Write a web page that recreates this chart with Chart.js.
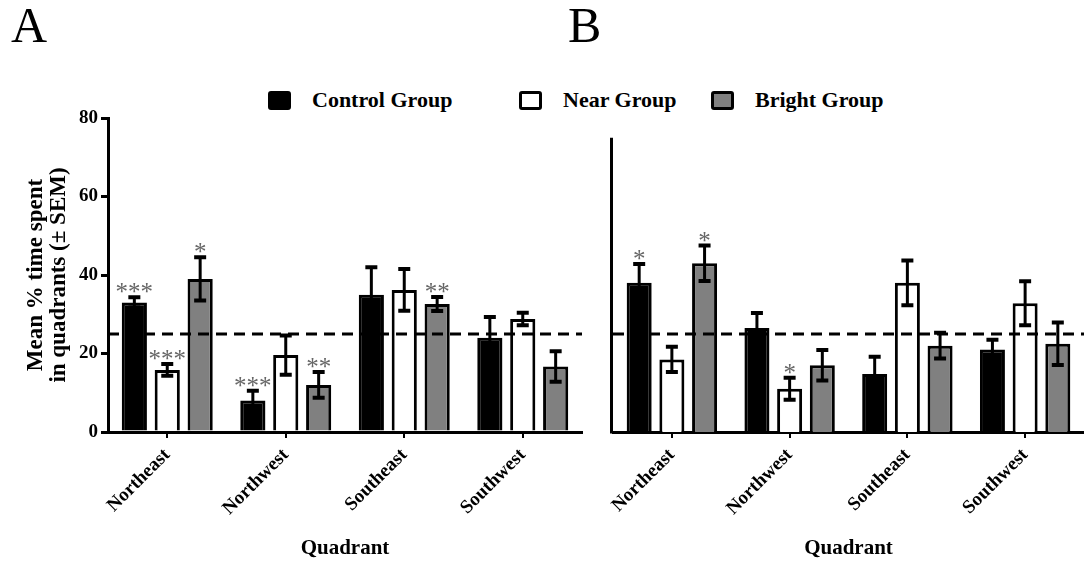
<!DOCTYPE html>
<html>
<head>
<meta charset="utf-8">
<script src="https://cdn.jsdelivr.net/npm/chart.js@4.4.1/dist/chart.umd.min.js"></script>
<style>
  body { margin: 0; background: #fff; }
  #wrap { position: relative; width: 1084px; height: 563px; font-family: "Liberation Serif", "Times New Roman", serif; color: #000; }
  canvas { position: absolute; top: 0; }
  #chartA { left: 0; }
  #chartB { left: 590px; }
  .panel-tag { position: absolute; top: 0px; font-size: 50px; line-height: 50px; }
  .legend-item { position: absolute; top: 88px; height: 24px; display: flex; align-items: center; font-weight: bold; font-size: 22px; white-space: nowrap; }
  .legend-box { width: 23px; height: 19px; box-sizing: border-box; border: 3px solid #000; border-radius: 3px; margin-right: 21px; }
</style>
</head>
<body>
<div id="wrap">
  <div class="panel-tag" style="left:11px">A</div>
  <div class="panel-tag" style="left:568px">B</div>
  <div id="legend"></div>
  <canvas id="chartA" width="595" height="563"></canvas>
  <canvas id="chartB" width="494" height="563"></canvas>
</div>
<script>
const categories = ['Northeast', 'Northwest', 'Southeast', 'Southwest'];
const groupNames = ['Control Group', 'Near Group', 'Bright Group'];
const groupColors = ['#000000', '#ffffff', '#808080'];
const yTicks = [0, 20, 40, 60, 80];
const chanceLevel = 25;

// Panel A: mean % time and SEM per quadrant
const controlMeanA = [33, 8, 35, 24];
const controlSemA = [1.3, 2.5, 7, 5.3];
const nearMeanA = [15.8, 19.6, 36.2, 28.8];
const nearSemA = [1.5, 5, 5.3, 1.6];
const brightMeanA = [39, 12, 32.6, 16.7];
const brightSemA = [5.5, 3.3, 1.8, 3.9];
const controlStarsA = ['***', '***', '', ''];
const nearStarsA = ['***', '', '', ''];
const brightStarsA = ['*', '**', '**', ''];

// Panel B
const controlMeanB = [38, 26.5, 14.8, 21];
const controlSemB = [4.8, 3.8, 4.4, 2.5];
const nearMeanB = [18.5, 11, 38, 32.8];
const nearSemB = [3.2, 2.8, 5.7, 5.6];
const brightMeanB = [43, 17, 22, 22.5];
const brightSemB = [4.5, 3.9, 3.3, 5.4];
const controlStarsB = ['*', '', '', ''];
const nearStarsB = ['', '*', '', ''];
const brightStarsB = ['*', '', '', ''];

const serif = '"Liberation Serif", "Times New Roman", serif';

// legend across both panels
const legendLeft = [268, 519, 711];
const legend = document.getElementById('legend');
groupNames.forEach((name, i) => {
  const item = document.createElement('div');
  item.className = 'legend-item';
  item.style.left = legendLeft[i] + 'px';
  const box = document.createElement('span');
  box.className = 'legend-box';
  box.style.background = groupColors[i];
  item.appendChild(box);
  item.appendChild(document.createTextNode(name));
  legend.appendChild(item);
});

// dashed chance line, error bars and significance stars
const overlay = {
  id: 'overlay',
  afterDatasetsDraw(chart, args, opts) {
    const { ctx, chartArea, scales: { y } } = chart;
    ctx.save();

    if (opts.axisTop != null) {
      ctx.strokeStyle = '#000';
      ctx.lineWidth = 3;
      ctx.beginPath();
      ctx.moveTo(chartArea.left - 1.5, y.getPixelForValue(0) + 1.5);
      ctx.lineTo(chartArea.left - 1.5, y.getPixelForValue(opts.axisTop));
      ctx.stroke();
    }

    const cy = y.getPixelForValue(chanceLevel);
    ctx.strokeStyle = '#000';
    ctx.lineWidth = 3;
    ctx.setLineDash([11, 7]);
    ctx.beginPath();
    ctx.moveTo(chartArea.left, cy);
    ctx.lineTo(chartArea.right, cy);
    ctx.stroke();
    ctx.setLineDash([]);

    chart.data.datasets.forEach((ds, i) => {
      chart.getDatasetMeta(i).data.forEach((bar, j) => {
        const hi = y.getPixelForValue(ds.data[j] + ds.sem[j]);
        const lo = y.getPixelForValue(ds.data[j] - ds.sem[j]);
        ctx.lineWidth = 3;
        ctx.beginPath();
        ctx.moveTo(bar.x, hi);
        ctx.lineTo(bar.x, lo);
        ctx.stroke();
        ctx.lineWidth = 4;
        ctx.beginPath();
        ctx.moveTo(bar.x - 6, hi);
        ctx.lineTo(bar.x + 6, hi);
        ctx.moveTo(bar.x - 6, lo);
        ctx.lineTo(bar.x + 6, lo);
        ctx.stroke();

        if (ds.stars[j]) {
          ctx.fillStyle = '#666666';
          ctx.font = '25px ' + serif;
          ctx.textAlign = 'center';
          ctx.textBaseline = 'alphabetic';
          ctx.fillText(ds.stars[j], bar.x, hi + 3);
        }
      });
    });
    ctx.restore();
  }
};

function buildChart(id, means, sems, stars, withLabels) {
  const datasets = groupNames.map((name, i) => ({
    label: name,
    data: means[i],
    sem: sems[i],
    stars: stars[i],
    backgroundColor: groupColors[i],
    borderColor: '#000',
    borderWidth: 3
  }));

  return new Chart(document.getElementById(id), {
    type: 'bar',
    data: { labels: categories, datasets },
    plugins: [overlay],
    options: {
      responsive: false,
      animation: false,
      layout: { padding: { top: 118, right: withLabels ? 13 : 0, left: 0, bottom: 0 } },
      datasets: { bar: { categoryPercentage: 0.833, barPercentage: 0.765 } },
      plugins: {
        legend: { display: false },
        tooltip: { enabled: false },
        overlay: { axisTop: withLabels ? null : 75 }
      },
      scales: {
        x: {
          grid: { drawOnChartArea: false, offset: false, color: '#000', lineWidth: 2, tickLength: 6 },
          border: { display: true, color: '#000', width: 3 },
          ticks: {
            color: '#000', autoSkip: false, minRotation: 45, maxRotation: 45, padding: 6,
            font: { family: serif, size: 19, weight: 'bold' }
          },
          title: {
            display: true, text: 'Quadrant', color: '#000',
            font: { family: serif, size: 21, weight: 'bold' },
            padding: { top: 0, bottom: 2 }
          },
          afterFit(scale) { scale.height = 131; }
        },
        y: {
          min: 0,
          max: 80,
          afterBuildTicks(scale) { scale.ticks = yTicks.map(v => ({ value: v })); },
          grid: { display: withLabels, drawOnChartArea: false, color: '#000', lineWidth: 3, tickLength: 7 },
          border: { display: withLabels, color: '#000', width: 3 },
          ticks: {
            display: withLabels, color: '#000', padding: 3,
            font: { family: serif, size: 19, weight: 'bold' }
          },
          title: {
            display: withLabels,
            text: ['Mean % time spent', 'in quadrants (± SEM)'],
            color: '#000',
            font: { family: serif, size: 23, weight: 'bold', lineHeight: 1.0 },
            padding: { top: 25, bottom: 0 }
          },
          afterFit(scale) { scale.width = withLabels ? 108 : 23; }
        }
      }
    }
  });
}

buildChart('chartA',
  [controlMeanA, nearMeanA, brightMeanA],
  [controlSemA, nearSemA, brightSemA],
  [controlStarsA, nearStarsA, brightStarsA], true);

buildChart('chartB',
  [controlMeanB, nearMeanB, brightMeanB],
  [controlSemB, nearSemB, brightSemB],
  [controlStarsB, nearStarsB, brightStarsB], false);
</script>
</body>
</html>
